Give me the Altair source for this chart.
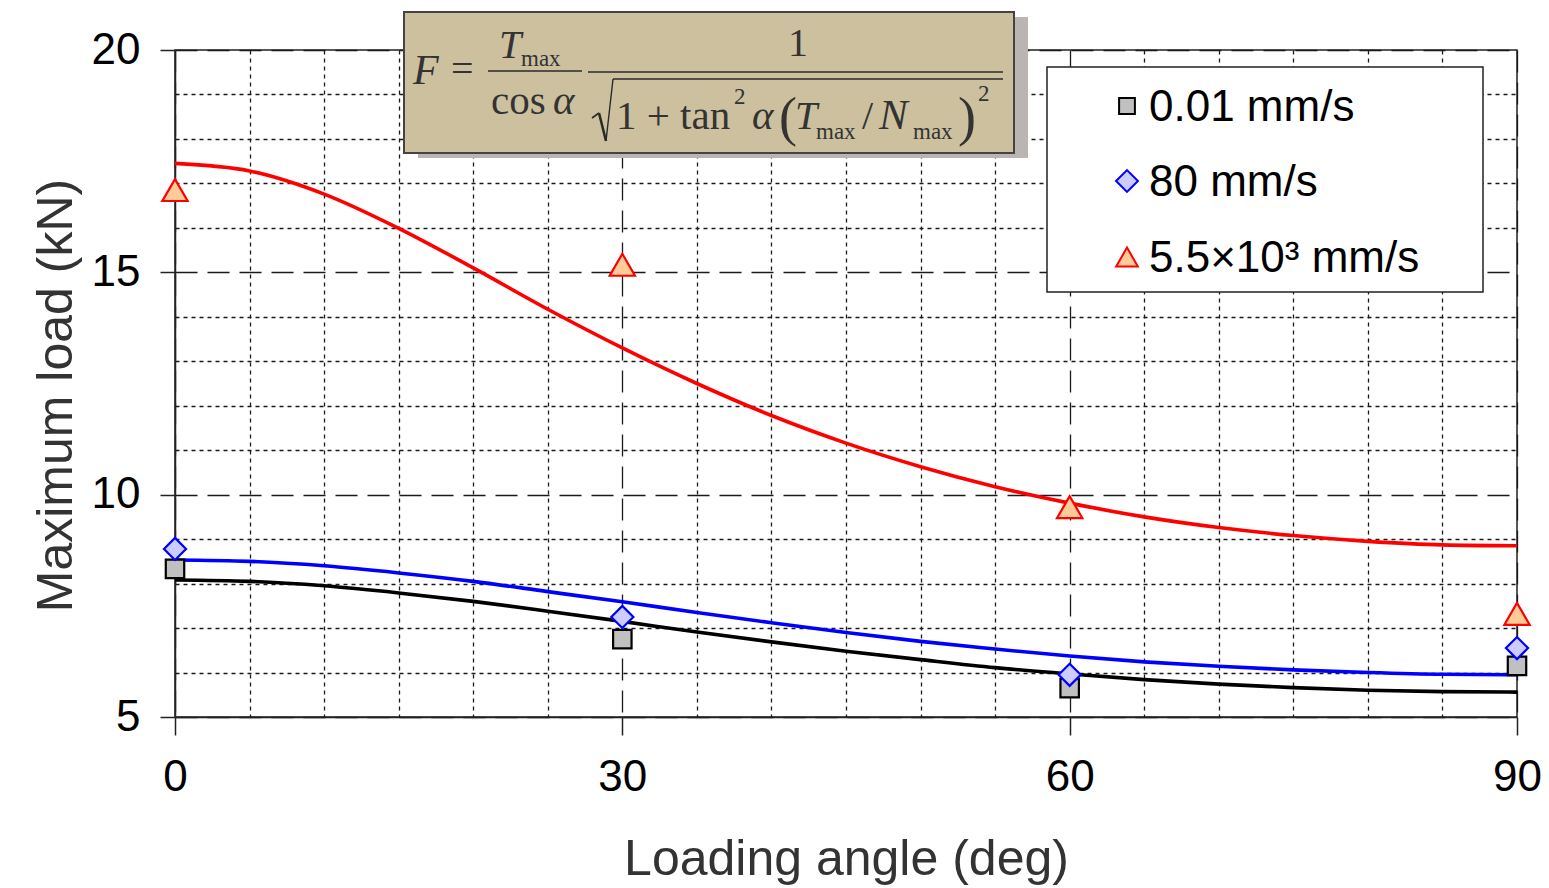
import altair as alt
import pandas as pd

# ---------------- data ----------------
series_names = ["0.01 mm/s", "80 mm/s", "5.5×10³ mm/s"]
angles = [0, 30, 60, 90]
pts_001 = [8.33, 6.75, 5.65, 6.15]
pts_80 = [8.78, 7.25, 5.95, 6.55]
pts_55e3 = [16.85, 15.17, 9.72, 7.32]

curve_angles = [0, 5, 10, 15, 20, 25, 30, 35, 40, 45, 50, 55, 60, 65, 70, 75, 80, 85, 90]
fit_001 = [8.08, 8.05, 7.95, 7.79, 7.60, 7.38, 7.15, 6.91, 6.69, 6.48, 6.29, 6.11, 5.97, 5.84, 5.74, 5.66, 5.60, 5.57, 5.56]
fit_80 = [8.53, 8.50, 8.40, 8.24, 8.05, 7.82, 7.59, 7.35, 7.12, 6.90, 6.70, 6.53, 6.37, 6.24, 6.14, 6.06, 6.00, 5.96, 5.95]
fit_55e3 = [17.45, 17.28, 16.76, 15.99, 15.10, 14.17, 13.30, 12.50, 11.78, 11.16, 10.63, 10.18, 9.81, 9.50, 9.26, 9.08, 8.95, 8.87, 8.85]

x_ticks = list(range(0, 91, 5))
y_ticks = list(range(5, 21, 1))

pts = pd.DataFrame({
    "angle": angles * 3,
    "load": pts_001 + pts_80 + pts_55e3,
    "series": [series_names[0]] * 4 + [series_names[1]] * 4 + [series_names[2]] * 4,
})
fits = pd.DataFrame({
    "angle": curve_angles * 3,
    "load": fit_001 + fit_80 + fit_55e3,
    "series": [series_names[0]] * len(curve_angles) + [series_names[1]] * len(curve_angles)
    + [series_names[2]] * len(curve_angles),
})

# ---------------- layout ----------------
OX, OY = 175, 50          # plot origin in page pixels
W, H = 1342, 667

line_colors = ["#000000", "#0000FF", "#FF0000"]
fill_colors = ["#C0C0C0", "#CCCCFF", "#FFCC99"]
shapes = ["square", "diamond", "triangle-up"]
marker_sizes = [340, 640, 560]
legend_marker_sizes = [250, 480, 470]

xscale = alt.Scale(domain=[0, 90], nice=False, zero=False)
yscale = alt.Scale(domain=[5, 20], nice=False, zero=False)

x_axis = alt.Axis(
    values=x_ticks,
    labelExpr="datum.value % 30 === 0 ? datum.label : ''",
    title="Loading angle (deg)",
    grid=True,
    gridColor="#1a1a1a",
    gridWidth=1.3,
    gridDash={"condition": {"test": "datum.value % 30 === 0", "value": [22, 10]}, "value": [4, 4]},
    tickOpacity={"condition": {"test": "datum.value % 30 === 0", "value": 1}, "value": 0},
    tickSize=18, tickColor="#222222", tickWidth=1.5,
    labelFontSize=44, labelFont="Liberation Sans", labelColor="#000000", labelPadding=20,
    labelFlush=False,
    titleFontSize=50, titleFont="Liberation Sans", titleFontWeight="normal", titleColor="#333333",
    titlePadding=35,
    domainColor="#222222", domainWidth=1.5,
)
y_axis = alt.Axis(
    values=y_ticks,
    labelExpr="datum.value % 5 === 0 ? datum.label : ''",
    title="Maximum load (kN)",
    grid=True,
    gridColor="#1a1a1a",
    gridWidth=1.3,
    gridDash={"condition": {"test": "datum.value % 5 === 0", "value": [22, 10]}, "value": [4, 4]},
    tickOpacity={"condition": {"test": "datum.value % 5 === 0", "value": 1}, "value": 0},
    tickSize=15, tickColor="#222222", tickWidth=1.5,
    labelFontSize=44, labelFont="Liberation Sans", labelColor="#000000", labelPadding=20,
    labelFlush=False,
    titleFontSize=50, titleFont="Liberation Sans", titleFontWeight="normal", titleColor="#333333",
    titlePadding=10, titleY=345,
    domainColor="#222222", domainWidth=1.5,
)

lines = alt.Chart(fits).mark_line(strokeWidth=3.6, interpolate="monotone").encode(
    x=alt.X("angle:Q", scale=xscale, axis=x_axis),
    y=alt.Y("load:Q", scale=yscale, axis=y_axis),
    color=alt.Color("series:N", scale=alt.Scale(domain=series_names, range=line_colors), legend=None),
    detail="series:N",
)

points = alt.Chart(pts).mark_point(filled=True, strokeWidth=2.2, opacity=1).encode(
    x=alt.X("angle:Q", scale=xscale),
    y=alt.Y("load:Q", scale=yscale),
    size=alt.Size("series:N", scale=alt.Scale(domain=series_names, range=marker_sizes), legend=None),
    shape=alt.Shape("series:N", scale=alt.Scale(domain=series_names, range=shapes), legend=None),
    fill=alt.Fill("series:N", scale=alt.Scale(domain=series_names, range=fill_colors), legend=None),
    stroke=alt.Stroke("series:N", scale=alt.Scale(domain=series_names, range=line_colors), legend=None),
)

one = pd.DataFrame({"k": [0]})

def box(x1, y1, x2, y2, **kw):
    return alt.Chart(one).mark_rect(**kw).encode(
        x=alt.value(x1 - OX), x2=alt.value(x2 - OX),
        y=alt.value(y1 - OY), y2=alt.value(y2 - OY),
    )

# ---- legend (box + entries) ----
legend_box = box(1047, 67, 1483, 292, fill="#FFFFFF", stroke="#222222", strokeWidth=1.5)
legend_rows_y = [106, 181, 257]
legend_layers = []
for i, name in enumerate(series_names):
    legend_layers.append(
        alt.Chart(one).mark_point(
            shape=shapes[i], filled=True, fill=fill_colors[i], stroke=line_colors[i],
            strokeWidth=2, size=legend_marker_sizes[i], opacity=1,
        ).encode(x=alt.value(1127 - OX), y=alt.value(legend_rows_y[i] - OY))
    )
    legend_layers.append(
        alt.Chart(one).mark_text(
            font="Liberation Sans", fontSize=44, align="left", baseline="middle", color="#000000",
        ).encode(x=alt.value(1149 - OX), y=alt.value(legend_rows_y[i] + 2 - OY), text=alt.value(name))
    )

# ---- formula annotation ----
formula_shadow = box(418, 17, 1028, 158, fill="#BAB5B3")
formula_box = box(404, 12, 1014, 153, fill="#CCC09E", stroke="#444444", strokeWidth=2)

def rule(x1, y1, x2, y2, w=1.6):
    return alt.Chart(one).mark_rule(color="#2a2a2a", strokeWidth=w).encode(
        x=alt.value(x1 - OX), x2=alt.value(x2 - OX),
        y=alt.value(y1 - OY), y2=alt.value(y2 - OY),
    )

# formula pieces: (text, x, baseline y, font size, italic)
formula_parts = [
    ("F", 413, 84, 42, True),
    ("=", 451, 82, 40, False),
    ("T", 499, 58, 40, True),
    ("max", 521, 66, 23, False),
    ("cos", 491, 114, 41, False),
    ("α", 553, 114, 41, True),
    ("1", 788, 56, 40, False),
    ("1 + tan", 616, 129, 41, False),
    ("2", 734, 104, 23, False),
    ("α", 752, 129, 41, True),
    ("(", 779, 135, 54, False),
    ("T", 795, 129, 40, True),
    ("max", 816, 139, 23, False),
    ("/", 862, 129, 40, False),
    ("N", 879, 129, 43, True),
    ("max", 913, 139, 23, False),
    (")", 958, 135, 54, False),
    ("2", 978, 101, 23, False),
]
formula_layers = []
for txt, px, py, fs, it in formula_parts:
    formula_layers.append(
        alt.Chart(one).mark_text(
            font="Liberation Serif", fontSize=fs, fontStyle="italic" if it else "normal",
            align="left", baseline="alphabetic", color="#333333",
        ).encode(x=alt.value(px - OX), y=alt.value(py - OY), text=alt.value(txt))
    )
formula_rules = [
    rule(488, 71, 582, 71),
    rule(588, 72, 1003, 72),
    rule(613, 79, 1003, 79),
    rule(592, 118, 599, 113, 1.6),
    rule(599, 113, 606, 141, 2.6),
    rule(606, 141, 613, 79, 1.4),
]

chart = alt.layer(
    legend_box, formula_shadow, formula_box, *formula_rules, *formula_layers,
    lines, points, *legend_layers
).properties(
    width=W, height=H,
    autosize=alt.AutoSizeParams(type="none"),
    padding={"left": OX, "top": OY, "right": 1549 - OX - W, "bottom": 888 - OY - H},
    background="#FFFFFF",
).configure_view(stroke="#222222", strokeWidth=1.5)

chart.save("out.html", embed_options={"renderer": "svg", "actions": False})
